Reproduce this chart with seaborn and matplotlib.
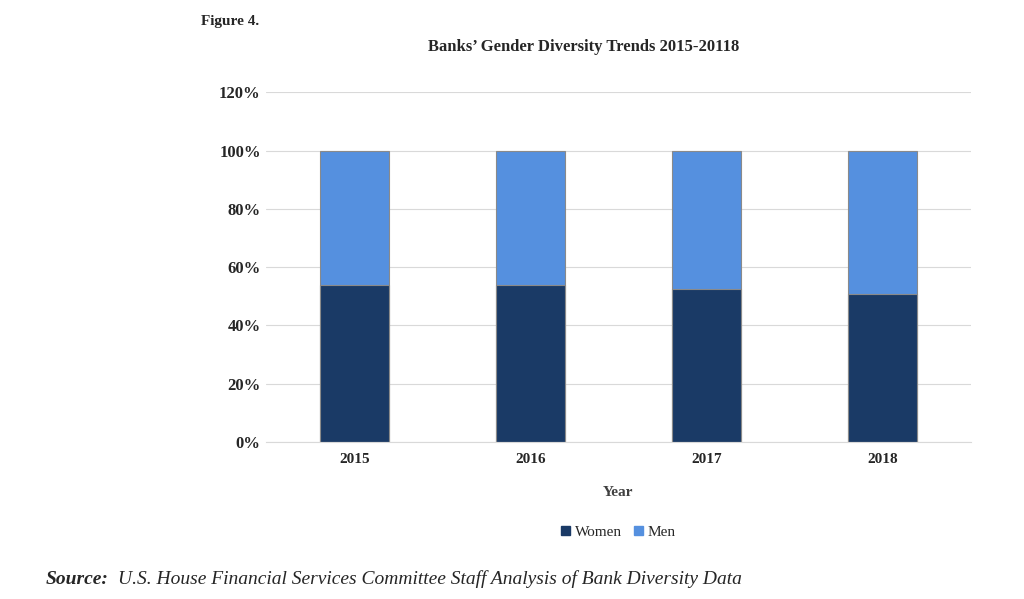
import pandas as pd
import matplotlib.pyplot as plt
import seaborn as sns
from matplotlib.patches import Patch

years = ['2015', '2016', '2017', '2018']
women = [54, 54, 52.5, 50.8]
men = [100 - w for w in women]

sns.set_style('white')
plt.rcParams['font.family'] = ['Liberation Serif', 'DejaVu Serif']

fig = plt.figure(figsize=(10.24, 5.99), dpi=100)
ax = fig.add_axes([0.26, 0.262, 0.688, 0.584])

df = pd.DataFrame({'Year': years, 'Total': [w + m for w, m in zip(women, men)], 'Women': women})
sns.barplot(data=df, x='Year', y='Total', color='#5590DF', width=0.39, ax=ax, saturation=1,
            edgecolor='#8a8a8a', linewidth=0.8)
sns.barplot(data=df, x='Year', y='Women', color='#1A3A66', width=0.39, ax=ax, saturation=1,
            edgecolor='#8a8a8a', linewidth=0.8)

ax.set_ylim(0, 120)
ax.set_yticks(range(0, 121, 20))
ax.set_yticklabels([f'{v}%' for v in range(0, 121, 20)], fontsize=12, fontweight='bold')
ax.tick_params(axis='x', labelsize=11, length=0, pad=8)
ax.tick_params(axis='y', length=0, pad=4)
for t in ax.get_xticklabels():
    t.set_fontweight('bold')
ax.yaxis.grid(True, color='#d9d9d9', linewidth=0.8)
ax.set_axisbelow(True)
for s in ['top', 'right', 'left']:
    ax.spines[s].set_visible(False)
ax.spines['bottom'].set_color('#d9d9d9')
ax.set_xlabel('Year', fontsize=11, fontweight='bold', color='#404040', labelpad=14)
ax.set_ylabel('')

ax.legend(handles=[Patch(color='#1A3A66', label='Women'), Patch(color='#5590DF', label='Men')],
          loc='upper center', bbox_to_anchor=(0.5, -0.2), ncol=2, frameon=False,
          fontsize=11, handlelength=0.6, handleheight=0.6, columnspacing=0.8, handletextpad=0.3)

fig.text(0.196, 0.958, 'Figure 4.', fontsize=11, fontweight='bold')
fig.text(0.57, 0.915, 'Banks\u2019 Gender Diversity Trends 2015-20118', fontsize=12,
         fontweight='bold', ha='center')
fig.text(0.045, 0.025, 'Source:', fontsize=14, fontweight='bold', style='italic')
fig.text(0.115, 0.025, 'U.S. House Financial Services Committee Staff Analysis of Bank Diversity Data',
         fontsize=14, style='italic')

fig.savefig('out.png', dpi=100)
